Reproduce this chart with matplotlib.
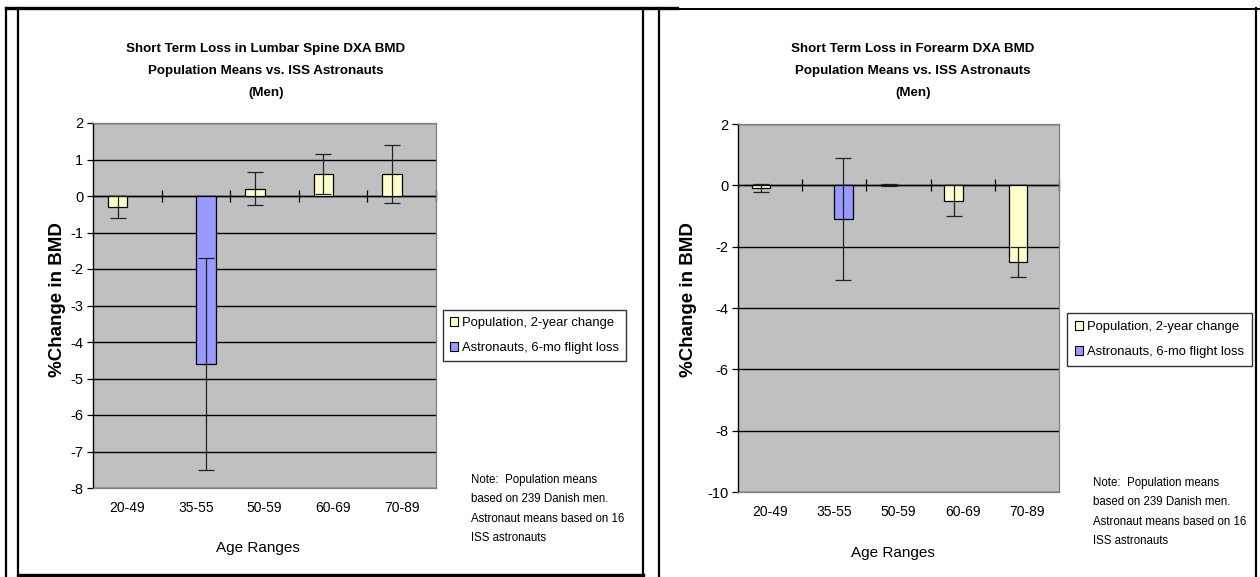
import numpy as np
import matplotlib
matplotlib.use("Agg")
import matplotlib.pyplot as plt
from matplotlib.patches import Patch
from matplotlib.lines import Line2D

plt.rcParams['font.family'] = ['Liberation Sans Narrow', 'Liberation Sans', 'DejaVu Sans']
plt.rcParams['axes.unicode_minus'] = False

# ---------------- data ----------------
age_ranges = ["20-49", "35-55", "50-59", "60-69", "70-89"]
nan = np.nan

lumbar_pop = [-0.3, nan, 0.2, 0.6, 0.6]
lumbar_pop_err = [0.3, nan, 0.45, 0.55, 0.8]
lumbar_astro = [nan, -4.6, nan, nan, nan]
lumbar_astro_err = [nan, 2.9, nan, nan, nan]

forearm_pop = [-0.1, nan, 0.01, -0.5, -2.5]
forearm_pop_err = [0.13, nan, 0.04, 0.5, 0.5]
forearm_astro = [nan, -1.1, nan, nan, nan]
forearm_astro_err = [nan, 2.0, nan, nan, nan]

legend_labels = ["Population, 2-year change", "Astronauts, 6-mo flight loss"]
titles = ["Short Term Loss in Lumbar Spine DXA BMD\nPopulation Means vs. ISS Astronauts\n(Men)",
          "Short Term Loss in Forearm DXA BMD\nPopulation Means vs. ISS Astronauts\n(Men)"]
note = "Note:  Population means\nbased on 239 Danish men.\nAstronaut means based on 16\nISS astronauts"

POP_COLOR = "#FFFFCC"
ASTRO_COLOR = "#9999FF"
PLOT_BG = "#C0C0C0"

W, H = 1260, 577
fig = plt.figure(figsize=(W / 100, H / 100), dpi=100)
fig.patch.set_facecolor("white")


def px_rect(x0, y0, x1, y1):
    return [x0 / W, 1 - y1 / H, (x1 - x0) / W, (y1 - y0) / H]


def draw_chart(rect, pop, pop_err, astro, astro_err, ylim, ystep, title, title_xy,
               ylabel_xy, xlabel_xy, legend_xy, note_xy, leg_pad):
    ax = fig.add_axes(rect)
    ax.set_facecolor(PLOT_BG)
    x = np.arange(len(age_ranges))
    w = 1 / 3.5
    ax.bar(x - w / 2, pop, width=w, color=POP_COLOR, edgecolor="black", linewidth=0.9, zorder=3)
    ax.bar(x + w / 2, astro, width=w, color=ASTRO_COLOR, edgecolor="black", linewidth=0.9, zorder=3)
    ax.errorbar(x - w / 2, pop, yerr=pop_err, fmt="none", ecolor="#222222", elinewidth=0.9,
                capsize=5.5, capthick=0.9, zorder=4)
    ax.errorbar(x + w / 2, astro, yerr=astro_err, fmt="none", ecolor="#222222", elinewidth=0.9,
                capsize=5.5, capthick=0.9, zorder=4)

    ax.set_xlim(-0.5, len(age_ranges) - 0.5)
    ax.set_ylim(*ylim)
    ax.set_yticks(np.arange(ylim[0], ylim[1] + 0.001, ystep))
    ax.yaxis.grid(True, color="black", linewidth=1.0, zorder=1)
    ax.set_axisbelow(True)
    ax.tick_params(axis="y", direction="out", length=4, width=0.9, color="black",
                   labelsize=10.5, pad=3)
    ax.set_xticks(x)
    ax.set_xticklabels(age_ranges, fontsize=10)
    ax.tick_params(axis="x", length=0, pad=9)
    for s in ["top", "right", "bottom"]:
        ax.spines[s].set_color("#808080")
        ax.spines[s].set_linewidth(0.9)
    ax.spines["left"].set_color("black")
    ax.spines["left"].set_linewidth(1.0)

    # category axis crossing at zero with boundary tick marks
    zero_frac = (0 - ylim[0]) / (ylim[1] - ylim[0])
    sec = ax.secondary_xaxis(zero_frac)
    sec.set_xticks(np.arange(0.5, len(age_ranges) - 0.5 + 0.01, 1.0))
    sec.set_xticklabels([])
    sec.tick_params(direction="inout", length=9, width=0.9, color="black")
    sec.spines["bottom"].set_visible(False)
    sec.spines["top"].set_visible(False)
    ax.axhline(0, color="black", linewidth=1.0, zorder=2)

    fig.text(title_xy[0] / W, 1 - title_xy[1] / H, title, ha="center", va="center",
             fontsize=9.6, fontweight="bold", linespacing=2.1)
    fig.text(ylabel_xy[0] / W, 1 - ylabel_xy[1] / H, "%Change in BMD", rotation=90,
             ha="center", va="center", fontsize=13.5, fontweight="bold")
    fig.text(xlabel_xy[0] / W, 1 - xlabel_xy[1] / H, "Age Ranges", ha="center",
             va="center", fontsize=11)

    handles = [Patch(facecolor=POP_COLOR, edgecolor="black", linewidth=0.8),
               Patch(facecolor=ASTRO_COLOR, edgecolor="black", linewidth=0.8)]
    leg = fig.legend(handles, legend_labels, loc="upper left",
                     bbox_to_anchor=(legend_xy[0] / W, 1 - legend_xy[1] / H),
                     fontsize=9.4, frameon=True, fancybox=False, edgecolor="black",
                     handlelength=0.6, handleheight=0.6, handletextpad=0.3,
                     borderpad=leg_pad, labelspacing=1.0, borderaxespad=0)
    leg.get_frame().set_linewidth(1.0)

    fig.text(note_xy[0] / W, 1 - note_xy[1] / H, note, ha="left", va="top",
             fontsize=8.3, linespacing=1.82)
    return ax


draw_chart(px_rect(93, 123, 436, 488), lumbar_pop, lumbar_pop_err, lumbar_astro,
           lumbar_astro_err, (-8, 2), 1, titles[0], (266, 71), (57, 300), (258, 548),
           (443, 310), (471, 474), 0.55)
draw_chart(px_rect(738, 124, 1059, 492), forearm_pop, forearm_pop_err, forearm_astro,
           forearm_astro_err, (-10, 2), 2, titles[1], (913, 71), (689, 300), (893, 553),
           (1067, 313), (1093, 477), 0.62)

# page frame lines (document borders around the two charts)
def fline(xs, ys, lw):
    fig.add_artist(Line2D([v / W for v in xs], [1 - v / H for v in ys],
                          color="black", linewidth=lw, transform=fig.transFigure))

fline([6, 677], [8, 8], 2.4)
fline([677, 1260], [8.5, 8.5], 1.4)
fline([6, 6], [8, 577], 1.6)
fline([18, 18], [8, 575], 1.6)
fline([18, 643], [575, 575], 2.4)
fline([643, 643], [8, 577], 1.6)
fline([659, 659], [8, 577], 1.6)
fline([1256, 1256], [8, 577], 1.6)

fig.savefig("out.png", dpi=100)
